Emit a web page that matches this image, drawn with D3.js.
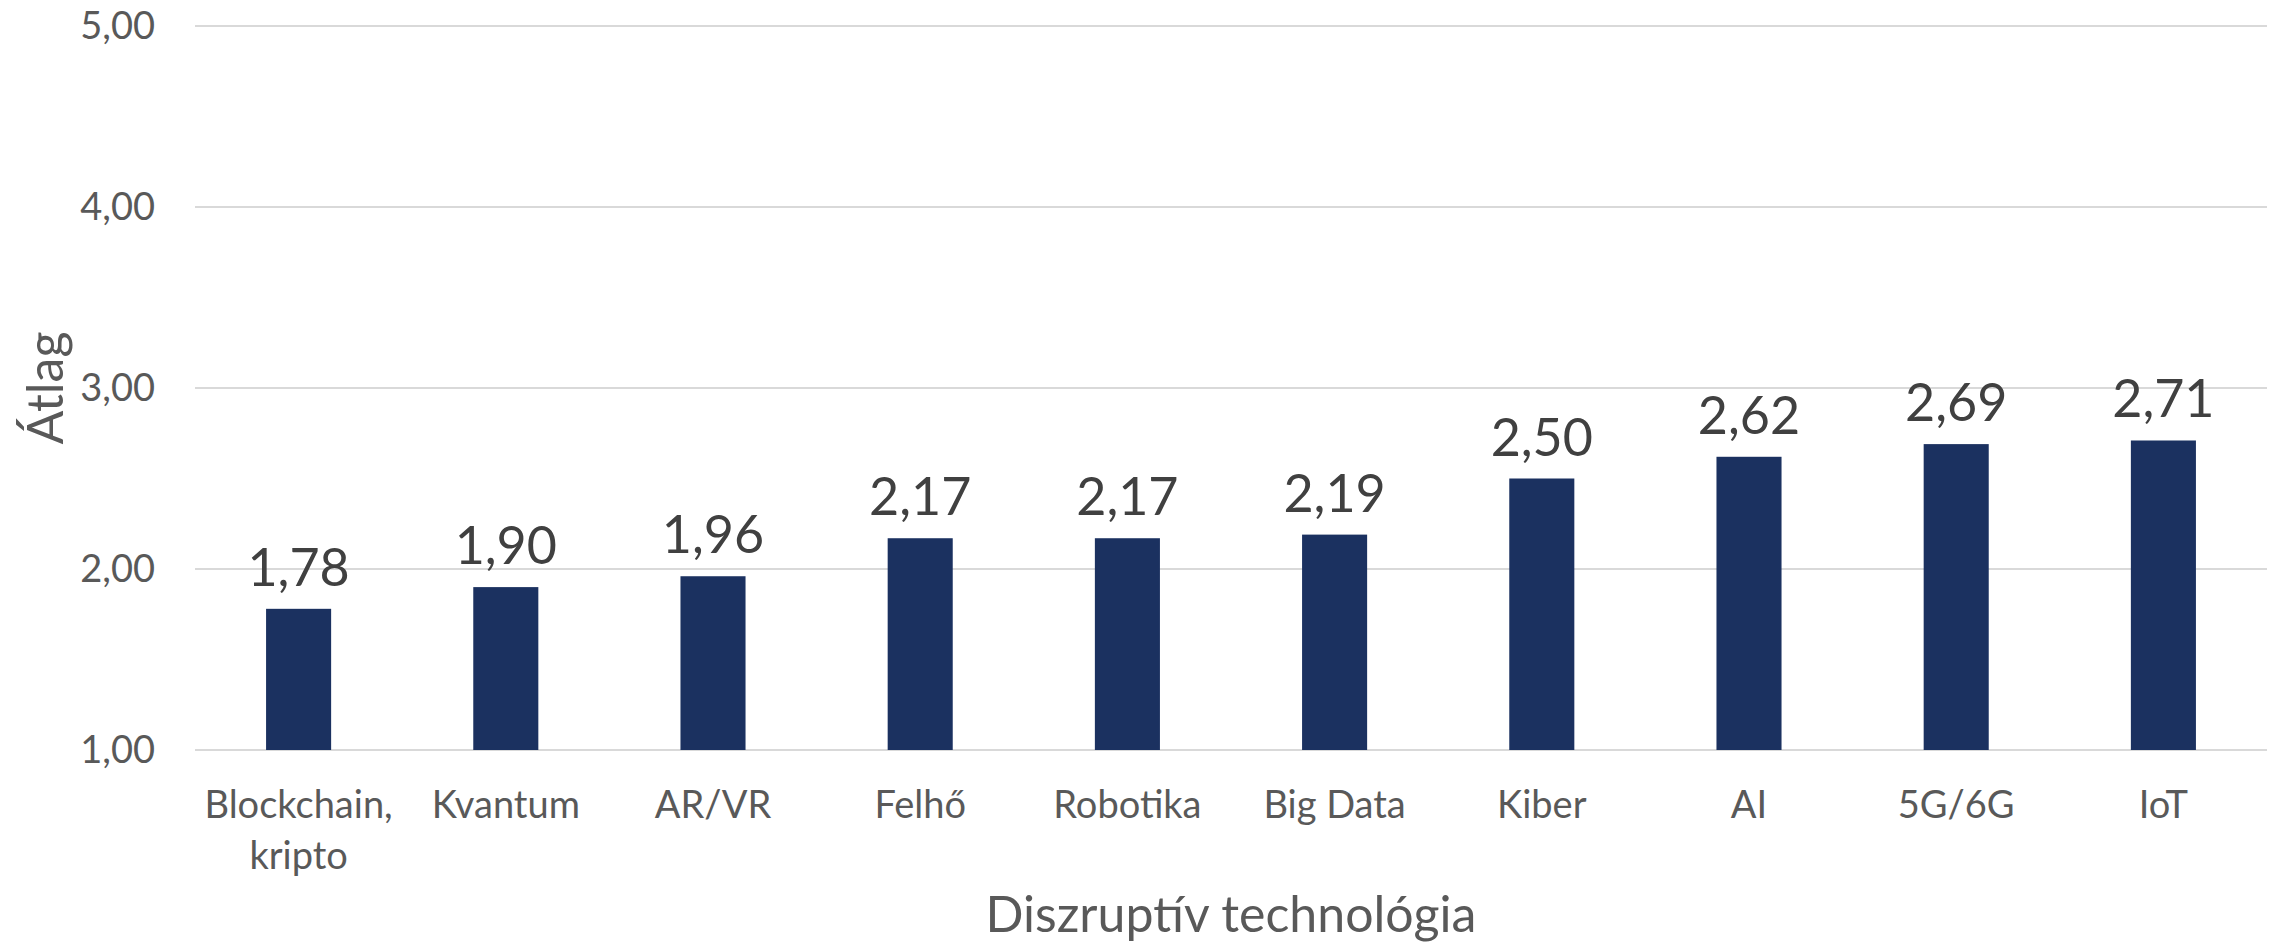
<!DOCTYPE html>
<html>
<head>
<meta charset="utf-8">
<script src="https://cdn.jsdelivr.net/npm/d3@7"></script>
<style>
  html, body { margin: 0; padding: 0; background: #fff; }
  svg { display: block; font-family: Lato, "Open Sans", sans-serif; }
</style>
</head>
<body>
<div class="chart"></div>
<script>
var categories = ['Blockchain,\nkripto', 'Kvantum', 'AR/VR', 'Felhő', 'Robotika', 'Big Data', 'Kiber', 'AI', '5G/6G', 'IoT'];
var values = [1.78, 1.90, 1.96, 2.17, 2.17, 2.19, 2.50, 2.62, 2.69, 2.71];
var yTicks = [1, 2, 3, 4, 5];

var width = 2280;
var height = 946;
var margin = {top: 26, right: 13, bottom: 196, left: 195};

var fmt = d => d3.format('.2f')(d).replace('.', ',');

var x = d3.scaleBand()
  .domain(categories)
  .range([margin.left, width - margin.right]);

var y = d3.scaleLinear()
  .domain([1, 5])
  .range([height - margin.bottom, margin.top]);

var barWidth = x.bandwidth() * 0.314;

var svg = d3.select('.chart').append('svg')
  .attr('width', width)
  .attr('height', height);

// gridlines
svg.append('g')
  .selectAll('line')
  .data(yTicks)
  .enter().append('line')
    .attr('x1', margin.left)
    .attr('x2', width - margin.right)
    .attr('y1', d => y(d))
    .attr('y2', d => y(d))
    .style('stroke', '#d9d9d9')
    .style('stroke-width', 2);

// y axis labels
var yAxis = d3.axisLeft(y)
  .tickValues(yTicks)
  .tickFormat(fmt)
  .tickSize(0)
  .tickPadding(40);

var gY = svg.append('g')
  .attr('transform', `translate(${margin.left}, 0)`)
  .call(yAxis);
gY.select('.domain').remove();
gY.selectAll('text')
  .style('font-family', 'Lato, sans-serif')
  .style('font-size', '38px')
  .style('fill', '#595959');

// bars
svg.append('g')
  .selectAll('rect')
  .data(values)
  .enter().append('rect')
    .attr('x', (d, i) => x(categories[i]) + (x.bandwidth() - barWidth) / 2)
    .attr('y', d => y(d))
    .attr('width', barWidth)
    .attr('height', d => y(1) - y(d))
    .style('fill', '#1b3160');

// value labels
svg.append('g')
  .selectAll('text')
  .data(values)
  .enter().append('text')
    .attr('x', (d, i) => x(categories[i]) + x.bandwidth() / 2)
    .attr('y', d => y(d) - 23)
    .attr('text-anchor', 'middle')
    .style('font-size', '52px')
    .style('fill', '#404040')
    .text(fmt);

// category labels
var cat = svg.append('g')
  .selectAll('text')
  .data(categories)
  .enter().append('text')
    .attr('x', d => x(d) + x.bandwidth() / 2)
    .attr('y', 818)
    .attr('text-anchor', 'middle')
    .style('font-size', '38px')
    .style('fill', '#595959');

cat.selectAll('tspan')
  .data(d => d.split('\n'))
  .enter().append('tspan')
    .attr('x', function() { return d3.select(this.parentNode).attr('x'); })
    .attr('dy', (d, i) => i === 0 ? 0 : 51)
    .text(d => d);

// axis titles
svg.append('text')
  .attr('x', (margin.left + width - margin.right) / 2)
  .attr('y', 932)
  .attr('text-anchor', 'middle')
  .style('font-size', '50px')
  .style('fill', '#595959')
  .text('Diszruptív technológia');

svg.append('text')
  .attr('transform', `translate(63, ${(y(1) + y(5)) / 2}) rotate(-90)`)
  .attr('text-anchor', 'middle')
  .style('font-size', '50px')
  .style('fill', '#595959')
  .text('Átlag');
</script>
</body>
</html>
